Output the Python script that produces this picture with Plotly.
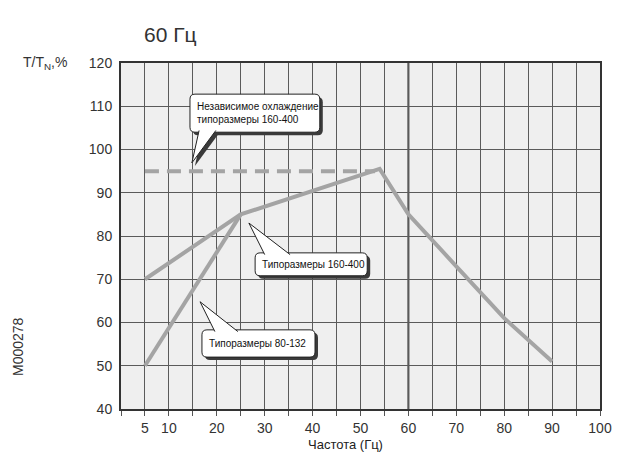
import plotly.graph_objects as go

# values
freq_160_400 = [5, 25, 54, 60, 70, 80, 90]
torque_160_400 = [70, 85, 95.5, 85, 73, 61, 51]
freq_80_132 = [5, 25]
torque_80_132 = [50, 85]
freq_indep = [5, 53]
torque_indep = [95, 95]

x_ticks = list(range(0, 105, 5))
x_labels = ['', '5', '10', '', '20', '', '30', '', '40', '', '50', '', '60',
            '', '70', '', '80', '', '90', '', '100']
y_ticks = list(range(40, 130, 10))

line_col = '#a4a4a4'
grid_col = '#5a5a5a'
font = 'Liberation Sans, Arial'

# page is drawn with an 8px body margin
OFF = 8
W, H = 641 - OFF, 465 - OFF
L, T = 121 - OFF, 63 - OFF
R, B = W - (600 - OFF), H - (409 - OFF)
pw, ph = W - L - R, H - T - B

# pixel sizes in data units
px_x = 100 / pw
px_y = 80 / ph


def box_path(x0, x1, y0, y1, r=5):
    rx, ry = r * px_x, r * px_y
    return (f'M {x0+rx},{y1} L {x1-rx},{y1} Q {x1},{y1} {x1},{y1-ry} '
            f'L {x1},{y0+ry} Q {x1},{y0} {x1-rx},{y0} L {x0+rx},{y0} '
            f'Q {x0},{y0} {x0},{y0+ry} L {x0},{y1-ry} Q {x0},{y1} {x0+rx},{y1} Z')


def callout(shapes, annots, x0, x1, y0, y1, base, tip, text, top=True):
    dx, dy = 3 * px_x, -3 * px_y
    by = (y1 - 0.4) if top else (y0 + 0.4)
    ptr = f'M {base[0]},{by} L {tip[0]},{tip[1]} L {base[1]},{by}'
    ptr_sh = f'M {base[0]+dx},{by+dy} L {tip[0]+dx},{tip[1]+dy} L {base[1]+dx},{by+dy} Z'
    shapes.append(dict(type='path', path=box_path(x0 + dx, x1 + dx, y0 + dy, y1 + dy),
                       fillcolor='#3a3a3a', line=dict(width=0), layer='above'))
    shapes.append(dict(type='path', path=ptr_sh, fillcolor='#3a3a3a',
                       line=dict(width=0), layer='above'))
    shapes.append(dict(type='path', path=box_path(x0, x1, y0, y1), fillcolor='white',
                       line=dict(color='#222', width=1), layer='above'))
    shapes.append(dict(type='path', path=ptr, fillcolor='white',
                       line=dict(color='#222', width=1), layer='above'))
    annots.append(dict(x=x0 + 1.0, y=(y0 + y1) / 2, xref='x', yref='y', text=text,
                       showarrow=False, xanchor='left', yanchor='middle', align='left',
                       font=dict(size=10, color='#111', family=font)))


def page_label(x, y, text, size, xanchor='center', angle=0, color='#333'):
    # x, y given in reference-page pixels
    return dict(x=(x - OFF - L) / pw, y=(H - B - (y - OFF)) / ph, xref='paper',
                yref='paper', text=text, showarrow=False, xanchor=xanchor,
                yanchor='middle', textangle=angle,
                font=dict(size=size, color=color, family=font))


fig = go.Figure()
fig.add_trace(go.Scatter(x=freq_indep, y=torque_indep, mode='lines',
                         line=dict(color=line_col, width=4, dash='14px,8px')))
fig.add_trace(go.Scatter(x=freq_80_132, y=torque_80_132, mode='lines',
                         line=dict(color=line_col, width=4)))
fig.add_trace(go.Scatter(x=freq_160_400, y=torque_160_400, mode='lines',
                         line=dict(color=line_col, width=4)))

shapes = [dict(type='line', x0=60, x1=60, y0=40, y1=120, xref='x', yref='y',
               line=dict(color='#444', width=2), layer='below')]
annots = []

callout(shapes, annots, 14.4, 41.5, 104.0, 112.8, (16.3, 19.8), (14.8, 96.9),
        'Независимое охлаждение<br>типоразмеры 160-400', top=False)
callout(shapes, annots, 28.0, 51.4, 70.8, 76.1, (30.0, 35.3), (26.7, 83.0),
        'Типоразмеры 160-400')
callout(shapes, annots, 16.9, 40.5, 52.0, 58.3, (19.6, 24.4), (16.5, 64.8),
        'Типоразмеры 80-132')

annots += [
    page_label(142, 35, '60 Гц', 21, xanchor='left'),
    page_label(69, 63, 'T/T<sub>N</sub>,%', 14, xanchor='right'),
    page_label(345, 444, 'Частота (Гц)', 13, color='#222'),
    page_label(18, 347, 'M000278', 14, angle=-90),
]

fig.update_layout(
    width=W, height=H,
    margin=dict(l=L, r=R, t=T, b=B),
    paper_bgcolor='white',
    plot_bgcolor='#efefef',
    showlegend=False,
    shapes=shapes,
    annotations=annots,
    font=dict(family=font, color='#333'),
    xaxis=dict(range=[0, 100], tickvals=x_ticks, ticktext=x_labels,
               showgrid=True, gridcolor=grid_col, gridwidth=1, zeroline=False,
               showline=True, linecolor='#333', linewidth=2, mirror=True,
               ticks='outside', ticklen=5, tickcolor='#555',
               tickfont=dict(size=14, color='#333')),
    yaxis=dict(range=[40, 120], tickvals=y_ticks, showgrid=True,
               gridcolor=grid_col, gridwidth=1, zeroline=False,
               showline=True, linecolor='#333', linewidth=2, mirror=True,
               ticks='', tickfont=dict(size=14, color='#333'), ticklabelstandoff=4),
)

fig.write_html("out.html")
